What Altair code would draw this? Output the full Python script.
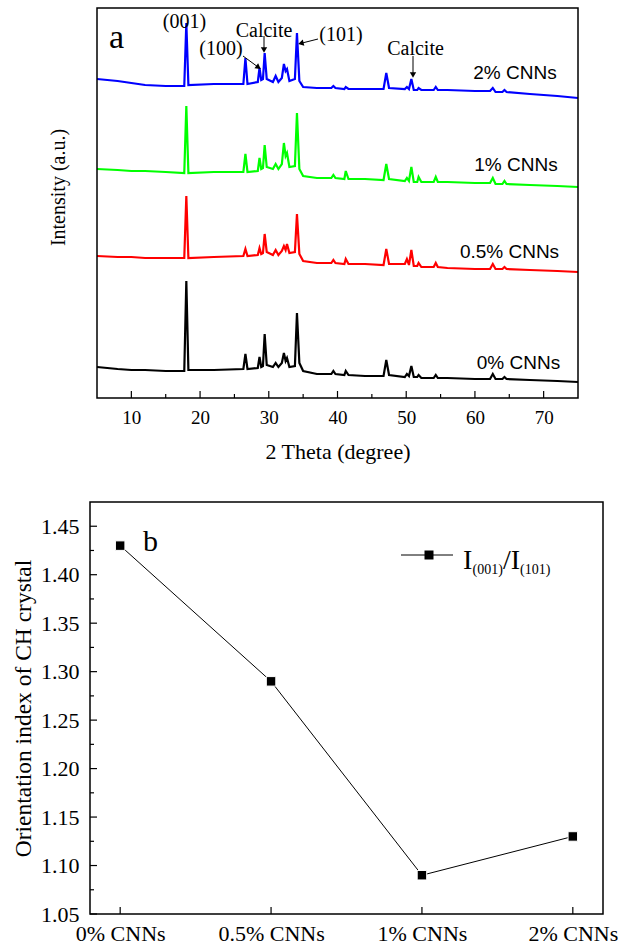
import altair as alt
import pandas as pd

# ---------------- data (panel a: XRD patterns) ----------------
two_theta = [5, 8, 10, 12, 15, 17.7, 18.0, 18.3, 22, 26.3, 26.6, 26.9, 28.4, 28.65, 28.9,
             29.15, 29.4, 29.7, 30.6, 31.0, 31.4, 31.9, 32.2, 32.45, 32.65, 33.0, 33.8, 34.1,
             34.45, 35, 37, 39.1, 39.4, 39.7, 41.0, 41.2, 41.6, 44, 46.7, 47.1, 47.5, 49.8,
             50.1, 50.4, 50.75, 51.1, 51.6, 51.8, 52.2, 54.0, 54.3, 54.6, 56, 60, 62.2, 62.6,
             63.0, 64.0, 64.3, 64.6, 68, 72, 75]

intensity_0 = [31, 29, 28, 28, 27, 27, 117, 28, 28, 29, 44, 29, 30, 41, 31, 32, 64, 33, 31, 35,
               31, 35, 45, 37, 40, 31, 32, 85, 35, 27, 24, 24, 27, 24, 23, 27, 23, 22, 22, 38,
               23, 21, 24, 22, 32, 21, 21, 23, 20, 20, 23, 20, 20, 19, 19, 24, 19, 19, 21, 19,
               18, 17, 16]
intensity_05 = [142, 141, 141, 140, 140, 140, 202, 140, 141, 142, 149, 142, 143, 150, 144, 145,
                164, 146, 143, 148, 143, 147, 152, 148, 154, 145, 146, 184, 144, 137, 135, 135,
                138, 135, 134, 139, 134, 134, 133, 149, 134, 134, 139, 133, 148, 132, 132, 135,
                131, 131, 135, 131, 130, 129, 129, 134, 129, 129, 131, 129, 128, 127, 126]
intensity_1 = [229, 228, 227, 227, 226, 225, 292, 225, 226, 226, 244, 226, 227, 240, 229, 230,
               253, 231, 229, 234, 229, 234, 255, 242, 245, 231, 232, 285, 229, 222, 220, 220,
               223, 220, 219, 227, 219, 219, 218, 234, 219, 217, 220, 217, 231, 216, 216, 221,
               216, 216, 221, 216, 216, 215, 215, 220, 214, 214, 217, 214, 213, 212, 211]
intensity_2 = [319, 317, 315, 313, 312, 312, 375, 313, 314, 314, 340, 314, 316, 330, 318, 319,
               345, 319, 316, 322, 316, 320, 334, 327, 329, 317, 319, 365, 317, 311, 310, 310,
               312, 310, 309, 311, 309, 309, 309, 325, 310, 309, 311, 309, 319, 308, 308, 310,
               308, 308, 311, 308, 308, 307, 307, 310, 306, 306, 308, 306, 304, 302, 300]

series_names = ["0% CNNs", "0.5% CNNs", "1% CNNs", "2% CNNs"]
top_major_ticks = [10, 20, 30, 40, 50, 60, 70]
top_minor_ticks = [15, 25, 35, 45, 55, 65]
peak_labels = ["(001)", "(100)", "Calcite", "(101)", "Calcite"]
panel_letters = ["a", "b"]

# ---------------- data (panel b: orientation index) ----------------
samples = ["0% CNNs", "0.5% CNNs", "1% CNNs", "2% CNNs"]
orientation_index = [1.43, 1.29, 1.09, 1.13]
b_major_ticks = [1.05, 1.10, 1.15, 1.20, 1.25, 1.30, 1.35, 1.40, 1.45]
b_minor_ticks = [1.075, 1.125, 1.175, 1.225, 1.275, 1.325, 1.375, 1.425]

# ---------------- styles ----------------
series_colors = ["#000000", "#ff0000", "#00ff00", "#0000ff"]
SERIF = "Liberation Serif"
SANS = "Liberation Sans"

W1, H1 = 488, 390      # top panel group; its frame spans x 7..488
FX = 7                 # left offset of the top frame inside the group
W2, H2 = 513, 412

rows = []
for name, vals in zip(series_names, [intensity_0, intensity_05, intensity_1, intensity_2]):
    for t, v in zip(two_theta, vals):
        rows.append({"series": name, "theta": t, "intensity": v})
xrd = pd.DataFrame(rows)
one = pd.DataFrame({"k": [0]})

xs = alt.Scale(domain=[5, 75], range=[FX, W1], nice=False, zero=False)
ys = alt.Scale(domain=[0, 390], nice=False, zero=False)

lines = alt.Chart(xrd).mark_line(strokeWidth=2.2, clip=True).encode(
    x=alt.X("theta:Q", scale=xs,
            axis=alt.Axis(values=top_major_ticks, ticks=False, domain=False, grid=False,
                          labelFontSize=19, labelPadding=10, labelFont=SERIF,
                          title="2 Theta (degree)", titleFontSize=22, titleFont=SERIF,
                          titlePadding=14, titleFontWeight="normal",
                          titleX=(FX + W1) / 2)),
    y=alt.Y("intensity:Q", scale=ys,
            axis=alt.Axis(labels=False, ticks=False, domain=False, grid=False,
                          title="Intensity (a.u.)", titleFontSize=20, titleFont=SERIF,
                          titlePadding=22, titleFontWeight="normal", titleY=179)),
    color=alt.Color("series:N", scale=alt.Scale(domain=series_names, range=series_colors),
                    legend=None),
)

frame_top = alt.Chart(one).mark_rect(fill="transparent", stroke="black", strokeWidth=1.5).encode(
    x=alt.value(FX), x2=alt.value(W1), y=alt.value(0), y2=alt.value(H1))

major_top = alt.Chart(pd.DataFrame({"theta": top_major_ticks})).mark_rule(
    color="black", strokeWidth=1.2).encode(
    x=alt.X("theta:Q", scale=xs), y=alt.value(H1), y2=alt.value(H1 - 7))
minor_top = alt.Chart(pd.DataFrame({"theta": top_minor_ticks})).mark_rule(
    color="black", strokeWidth=1.2).encode(
    x=alt.X("theta:Q", scale=xs), y=alt.value(H1), y2=alt.value(H1 - 4))


def txt(s, x, y, size, font=SERIF, align="center"):
    return alt.Chart(one).mark_text(font=font, fontSize=size, align=align,
                                    baseline="alphabetic", color="black").encode(
        x=alt.value(x), y=alt.value(y), text=alt.value(s))


def seg(x1, y1, x2, y2, w=1.0):
    return alt.Chart(one).mark_rule(color="black", strokeWidth=w).encode(
        x=alt.value(x1), y=alt.value(y1), x2=alt.value(x2), y2=alt.value(y2))


def head(x, y, ang):
    return alt.Chart(one).mark_point(shape="triangle-right", filled=True, size=40,
                                     angle=ang, color="black", opacity=1).encode(
        x=alt.value(x), y=alt.value(y))


top_ann = [
    txt(panel_letters[0], FX + 19.5, 40, 34),
    txt(peak_labels[0], FX + 87.5, 19.5, 20),
    txt(peak_labels[1], FX + 124, 46.5, 20),
    txt(peak_labels[2], FX + 167, 28.5, 20),
    txt(peak_labels[3], FX + 244, 33, 20),
    txt(peak_labels[4], FX + 318.5, 46.5, 20),
    txt(series_names[3], FX + 418, 71, 19, SANS),
    txt(series_names[2], FX + 419, 163, 19, SANS),
    txt(series_names[1], FX + 412.5, 250, 19, SANS),
    txt(series_names[0], FX + 421.5, 361, 19, SANS),
    seg(FX + 146, 48, FX + 161, 59), head(FX + 161.5, 59.3, 36),
    seg(FX + 167, 28, FX + 167, 42), head(FX + 167, 42, 90),
    seg(FX + 221, 31, FX + 204, 35.3), head(FX + 203.9, 35.3, 166),
    seg(FX + 316, 48, FX + 316, 67), head(FX + 316, 67, 90),
]

anchor_top = alt.Chart(one).mark_rule(color="white", strokeWidth=1).encode(
    x=alt.value(-88.5), y=alt.value(-6.5), y2=alt.value(491.5))

top = alt.layer(anchor_top, lines, frame_top, major_top, minor_top, *top_ann).properties(
    width=W1, height=H1, view=alt.ViewBackground(stroke="transparent"))

# ---------------- panel b ----------------
bdf = pd.DataFrame({"sample": samples, "oi": orientation_index})
xb = alt.Scale(type="point", domain=samples, padding=0.2)
yb = alt.Scale(domain=[1.05, 1.475], nice=False, zero=False)

bx = alt.X("sample:N", scale=xb, sort=samples,
           axis=alt.Axis(title=None, labelAngle=0, ticks=False, domain=False, grid=False,
                         labelFontSize=22, labelFont=SERIF, labelPadding=9))
by = alt.Y("oi:Q", scale=yb,
           axis=alt.Axis(values=b_major_ticks, format=".2f", ticks=False, domain=False,
                         grid=False, labelFontSize=22, labelFont=SERIF, labelPadding=11,
                         title="Orientation index of CH crystal", titleFontSize=23.5,
                         titleFont=SERIF, titlePadding=5, titleFontWeight="normal"))

bline = alt.Chart(bdf).mark_line(color="black", strokeWidth=1).encode(x=bx, y=by)
bpts = alt.Chart(bdf).mark_square(size=90, color="black", opacity=1, stroke="white",
                                  strokeWidth=1).encode(x=bx, y=by)

bmaj = alt.Chart(pd.DataFrame({"oi": b_major_ticks})).mark_rule(
    color="black", strokeWidth=1.2).encode(
    y=alt.Y("oi:Q", scale=yb), x=alt.value(0), x2=alt.value(7))
bmin = alt.Chart(pd.DataFrame({"oi": b_minor_ticks})).mark_rule(
    color="black", strokeWidth=1.2).encode(
    y=alt.Y("oi:Q", scale=yb), x=alt.value(0), x2=alt.value(4))
bxt = alt.Chart(pd.DataFrame({"sample": samples})).mark_rule(
    color="black", strokeWidth=1.2).encode(
    x=alt.X("sample:N", scale=xb, sort=samples), y=alt.value(H2), y2=alt.value(H2 - 7))

legend = [
    seg(311, 53, 363, 53),
    alt.Chart(one).mark_square(size=81, color="black", opacity=1).encode(
        x=alt.value(339), y=alt.value(53)),
    txt("I", 373, 67, 28, align="left"),
    txt("(001)", 382.5, 72, 14, align="left"),
    txt("/I", 413, 67, 28, align="left"),
    txt("(101)", 430, 72, 14, align="left"),
    txt(panel_letters[1], 53, 49, 30, align="left"),
]

anchor_b = alt.Chart(one).mark_rule(color="white", strokeWidth=1).encode(
    x=alt.value(-88.5), y=alt.value(0.5), y2=alt.value(H2))

bottom = alt.layer(anchor_b, bline, bpts, bmaj, bmin, bxt, *legend).properties(
    width=W2, height=H2, view=alt.ViewBackground(stroke="black", strokeWidth=1.5))

chart = alt.vconcat(top, bottom, spacing=0, padding=0).configure_view(
    stroke="black", strokeWidth=1.5
).configure_axis(labelColor="black", titleColor="black").configure(background="white")

chart.save("out.html", embed_options={"renderer": "svg", "actions": False})
